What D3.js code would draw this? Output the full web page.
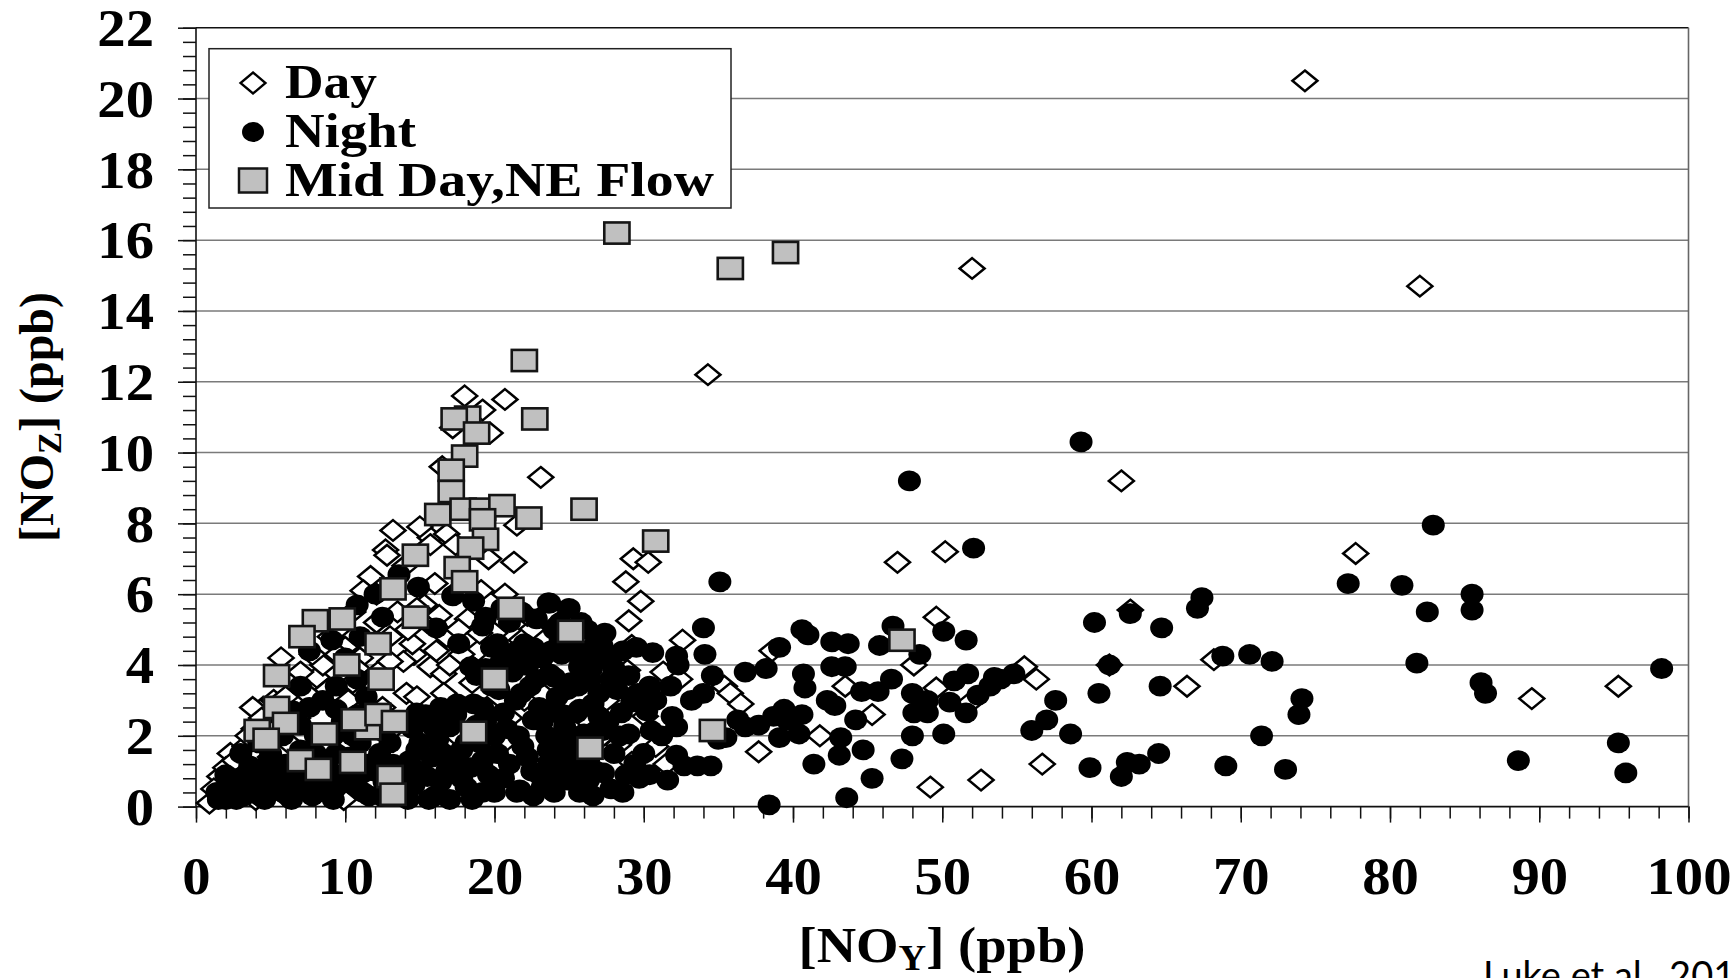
<!DOCTYPE html>
<html><head><meta charset="utf-8">
<script src="https://cdn.jsdelivr.net/npm/d3@7"></script>
<style>
html,body{margin:0;padding:0;background:#fff;overflow:hidden}
text{font-family:"Liberation Serif","Times New Roman",serif;font-weight:bold;fill:#000}
</style></head>
<body><svg id="c" width="1735" height="978"></svg>
<script>
const seriesNames = ["Day", "Night", "Mid Day,NE Flow"];
const xTickValues = [0,10,20,30,40,50,60,70,80,90,100];
const yTickValues = [0,2,4,6,8,10,12,14,16,18,20,22];
const citation = "Luke et al., 2010";

// Day (open diamonds): [NOy, NOz]
const dayPoints = [
 [74.3,20.5],[52.0,15.2],[82.0,14.7],[34.3,12.2],[62.0,9.2],[23.1,9.3],[77.7,7.15],[50.2,7.2],[47.0,6.9],
 [29.3,7.0],[30.3,6.9],[28.8,6.35],[29.8,5.8],[29.0,5.25],[62.6,5.55],[49.6,5.35],[66.4,3.4],[68.2,4.15],
 [61.2,4.0],[55.5,3.95],[56.3,3.6],[89.5,3.05],[95.3,3.4],[56.7,1.2],[52.6,0.75],[49.2,0.55],[45.3,2.6],
 [48.1,4.0],[37.7,1.55],[41.8,2.0],[32.6,4.7],[29.2,4.55],[28.9,3.85],[26.3,4.2],[31.3,3.8],[32.4,3.6],
 [27.1,3.7],[35.4,3.4],[35.8,3.2],[36.5,2.9],[38.6,4.4],[43.5,3.4],[49.6,3.35],[51.9,2.95],[30.1,2.55],
 [28.3,1.75],[29.2,1.25],[30.8,1.7],[31.5,1.2],[24.2,1.95],
 [18.0,11.6],[20.7,11.5],[19.2,11.2],[17.2,10.7],[16.5,9.6],[19.7,10.55],[13.2,7.8],[15.7,7.6],[16.8,7.7],
 [21.5,7.95],[12.7,7.25],[12.8,7.1],[11.7,6.5],[12.1,6.0],[15.7,7.4],[21.3,6.9],[19.1,6.1],[20.7,6.0],
 [18.2,5.3],[22.5,5.0],[22.2,5.4],[18.9,4.4],[15.3,5.7],[16.1,4.4],[14.6,4.3],[13.9,4.1],[15.7,3.95],
 [16.6,3.75],[12.1,5.2],[5.7,4.2],[8.1,3.65],[8.8,3.3],[7.4,3.2],[4.5,2.8],[14.1,3.2],[14.8,3.1],[16.6,3.2],
 [20.6,1.8],[23.7,1.3],[26.4,4.2],[2.3,1.5],[1.6,0.85],[0.9,0.1],[9.0,0.4],[9.9,0.2],[3.8,2.8],
 [3.0,1.2],[3.5,0.6],[4.2,1.0],[5.0,1.4],[5.5,0.8],[6.2,1.8],[4.8,2.2],[6.8,2.5],[7.5,1.2],[2.5,0.4],
 [1.8,0.3],[4.0,0.2],[6.0,0.3],[10.5,3.5],[11.0,4.2],[13.0,4.8],[14.5,4.6],[15.5,5.2],[17.0,4.0],[18.5,3.5],
 [19.5,2.8],[21.0,2.5],[22.0,3.0],[17.5,2.0],[12.5,2.8],[11.5,3.6],[10.0,4.5],[9.0,4.8],[8.5,4.0],[6.5,3.5],
 [23.5,5.5],[25.0,4.5],[24.0,3.5],[26.0,2.5],[27.0,1.9],[27.5,3.0],
 [1.2,0.5],[2.0,1.1],[2.6,1.3],[3.3,1.7],[3.9,2.2],[4.4,2.5],[5.2,3.0],[6.0,3.1],[7.0,3.8],[7.8,4.3],
 [9.5,5.0],[10.5,5.5],[11.2,6.1],[3.5,2.0],
 [9.5,4.3],[10.8,3.9],[11.5,4.6],[12.2,3.8],[13.0,4.1],[13.5,5.5],[14.2,5.0],[14.8,5.6],[16.3,5.4],[16.8,4.8],
 [17.6,5.0],[10.2,3.0],[11.8,2.6],[13.2,2.2],[15.0,2.4],[20.0,4.9],[21.8,4.7],[19.0,4.9],[17.8,4.3],[16.0,6.3],
 [14.0,6.8],[15.0,7.9],[17.4,7.4],[17.8,6.2],[19.6,7.0]
];

// Night (filled circles)
const nightPoints = [
 [59.3,10.3],[47.8,9.2],[52.1,7.3],[35.1,6.35],[82.9,7.95],[77.2,6.3],[80.8,6.25],[85.5,6.0],[85.5,5.55],
 [82.5,5.5],[67.4,5.9],[67.1,5.6],[64.7,5.05],[62.6,5.45],[60.2,5.2],[54.8,3.75],[53.9,3.6],[57.6,3.0],
 [57.0,2.45],[56.0,2.15],[58.6,2.05],[60.5,3.2],[61.2,4.0],[64.6,3.4],[68.8,4.25],[70.6,4.3],[72.1,4.1],
 [74.1,3.05],[73.9,2.6],[71.4,2.0],[81.8,4.05],[86.1,3.5],[86.4,3.2],[98.2,3.9],[95.3,1.8],[95.8,0.95],
 [88.6,1.3],[59.9,1.1],[62.4,1.25],[62.0,0.85],[63.2,1.2],[64.5,1.5],[69.0,1.15],[73.0,1.05],
 [34.0,5.05],[34.1,4.3],[34.6,3.7],[36.8,3.8],[38.2,3.9],[39.1,4.5],[40.6,5.0],[41.0,4.85],[42.6,4.65],
 [43.7,4.6],[40.7,3.75],[40.8,3.35],[42.6,3.95],[43.5,3.95],[42.3,3.0],[42.8,2.85],[44.6,3.25],[45.7,3.25],
 [46.6,3.6],[48.0,3.2],[46.7,5.1],[45.8,4.55],[48.5,4.3],[50.1,4.95],[51.6,4.7],[49.0,3.0],[48.1,2.65],
 [49.0,2.65],[50.5,2.95],[51.6,2.65],[50.8,3.55],[51.7,3.75],[52.4,3.15],[53.2,3.4],[53.5,3.65],[50.1,2.05],
 [48.0,2.0],[47.3,1.35],[45.3,0.8],[44.7,1.6],[44.2,2.45],[43.2,1.95],[43.1,1.45],[43.6,0.25],[41.4,1.2],
 [38.4,0.05],[39.1,1.95],[40.4,2.05],[40.6,2.6],[39.4,2.75],[39.6,2.45],[38.7,2.55],[37.7,2.3],[36.8,2.25],
 [36.3,2.45],[35.5,1.95],[35.0,1.9],[34.5,1.15],[33.6,1.15],[32.7,1.15],[32.2,1.45],[32.2,2.25],[33.2,3.0],
 [34.0,3.2],[31.9,2.55],[31.6,0.75],[29.7,0.8],[32.3,4.0],[32.2,4.25],[30.6,4.35],[29.5,4.5],[30.4,3.4],
 [27.2,4.55],[27.6,4.25],[25.9,3.85],[26.5,3.9],[24.9,3.3],[24.0,3.65],[23.7,5.75],[25.8,5.2],[24.4,4.7],
 [28.2,3.3],[29.2,2.95],[28.5,2.65],[27.0,2.55],[25.5,2.65],[24.7,2.25],[24.0,2.8],[26.0,2.05],[27.3,2.15],
 [29.0,2.05],[30.5,2.15],[25.0,1.5],[26.3,1.3],[27.3,0.95],[24.9,0.75],[26.3,0.75],[25.7,0.4],[23.7,1.2],
 [23.7,0.65],
 [13.6,6.55],[14.9,6.2],[17.2,5.95],[23.6,5.75],[10.8,5.7],[12.5,5.35],[16.1,5.05],[19.4,5.35],[19.2,5.1],
 [26.7,4.55],[17.6,4.6],[9.1,4.7],[7.6,4.4],[21.5,4.4],[22.6,4.5],[25.3,4.6],[18.4,3.95],[20.4,4.05],
 [23.7,3.75],[25.1,3.5],[25.7,3.95],[26.8,4.15],[10.8,3.6],[9.4,3.4],[7.0,3.4],[11.4,3.1],[9.4,2.75],
 [7.6,2.8],[14.8,2.65],[16.4,2.8],[19.2,2.8],[20.6,2.65],[22.6,2.45],[24.2,2.65],[25.7,2.75],[26.4,2.05],
 [21.9,1.7],[24.8,1.3],[21.5,0.4],[23.2,0.55],[19.2,1.3],[18.1,0.55],[17.0,0.2],[15.5,0.85],[15.0,1.8],
 [15.9,2.25],[17.0,2.25],[16.6,1.5],[18.1,1.8],[14.3,1.3],[11.2,0.95],[11.2,0.4],[9.4,0.55],[7.4,0.45],
 [5.8,0.4],[4.3,0.3],[2.7,0.2],[1.4,0.4],[3.4,0.65],[5.4,0.85],[3.6,1.15],[6.7,0.85],[5.0,1.5],[9.4,1.5],
 [12.3,1.5],[13.0,1.8],[6.5,2.7],
 [13.5,0.5],[14.5,2.2],[16.0,0.3],[16.8,1.0],[17.5,2.9],[18.8,2.3],[19.6,0.9],
 [20.0,2.0],[20.3,3.3],[21.0,1.2],[14.0,1.0],[15.8,1.4],[17.8,0.8],[19.0,1.8],
 [12.0,2.5],[10.5,2.0],[11.5,1.2],[8.5,1.0],[8.0,2.0],[6.0,1.2],[7.0,1.6],[4.5,0.9],
 [3.0,0.3],[2.0,0.2],[8.5,3.0],[10.0,4.2],[12.0,6.0],[21.8,3.2],
 [22.8,3.6],[22.5,1.0],[23.5,2.0],[20.0,0.4],[18.5,0.2],[19.8,4.5],[21.0,5.2],[24.5,4.3],
 [22.0,4.0],[23.0,2.8],[24.5,1.8],[25.5,1.0],[27.0,3.2],[28.0,1.5],[28.8,0.9],[27.8,0.5],[21.7,0.47],
 [1.5,0.2],[2.2,0.5],[2.8,0.8],[3.2,0.3],[3.8,0.9],[4.0,0.5],[4.6,0.2],[4.8,1.2],[5.2,0.5],[5.6,1.1],
 [6.2,0.6],[6.4,0.2],[6.8,1.3],[7.2,0.9],[7.8,0.3],[8.0,1.5],[8.4,0.6],[8.8,1.2],[9.2,0.2],[9.8,0.9],
 [10.2,1.4],[10.6,0.6],[11.0,1.8],[11.6,0.3],[12.0,1.0],[12.6,0.7],[3.0,1.5],[4.2,1.8],[5.8,2.0],[7.0,2.3],
 [2.0,0.9],
 [13.2,1.2],[14.6,0.6],[14.8,1.6],[15.4,2.6],[15.6,0.2],[16.2,1.9],[16.4,0.7],[17.2,1.2],[17.4,2.6],
 [17.8,1.6],[18.4,1.1],[18.6,2.9],[19.2,0.4],[19.4,2.4],[20.2,1.5],[20.6,0.8],
 [18.8,3.7],[19.8,3.4],[11.0,4.8],
 [20.8,2.2],[21.4,3.0],[21.6,2.0],[22.2,1.4],[22.4,3.4],[23.0,0.9],[23.2,2.4],[23.6,1.6],[24.0,0.4],[24.2,3.1],
 [24.6,2.6],[25.2,2.0],[25.6,3.4],[26.0,1.6],[26.6,2.9],[26.8,1.0],[27.6,2.4],[28.0,3.9],[28.4,2.0],[22.0,4.6],
 [23.2,4.2],[24.4,5.2],[21.2,3.8],[20.2,4.6],
 [20.5,5.6],[21.8,5.5],[22.8,5.3],[24.0,5.0],[25.0,5.6],[26.2,5.0],[27.4,4.9],[20.8,4.2],[22.4,4.1],[23.8,4.4],
 [25.6,4.3],[26.4,3.6],[27.8,3.6],[28.6,4.4],[29.0,3.7],[29.6,3.2],[30.2,2.7],[30.8,3.0],[31.2,2.0],[31.8,3.4],
 [30.0,1.5],[29.4,1.2],[28.6,0.4],[30.4,0.9],[22.6,0.3],[24.6,0.9],[26.6,0.3],[19.4,3.9],
 [18.6,5.8],[12.6,2.1],[10.8,2.6],[9.8,2.4],[9.2,2.0],[12.4,0.3],[14.2,0.2],[15.0,1.0],[16.0,2.6]
];

// Mid Day, NE flow (grey squares)
const midDayPoints = [
 [28.2,16.2],[35.8,15.2],[39.5,15.65],[22.0,12.6],[22.7,10.95],[18.2,11.0],[17.3,10.95],[18.8,10.55],
 [18.0,9.9],[17.1,9.5],[17.1,8.9],[16.2,8.25],[17.9,8.4],[19.2,8.4],[20.5,8.5],[22.3,8.15],[26.0,8.4],
 [19.2,8.1],[19.4,7.55],[18.4,7.3],[17.5,6.75],[18.0,6.35],[30.8,7.5],[14.7,7.1],[13.2,6.15],[14.7,5.35],
 [21.1,5.6],[25.1,4.95],[8.0,5.25],[9.8,5.3],[7.1,4.8],[12.2,4.6],[10.1,4.0],[5.4,3.7],[12.4,3.6],[20.0,3.6],
 [47.3,4.7],[5.4,2.8],[4.1,2.15],[6.0,2.35],[4.7,1.9],[8.6,2.05],[11.5,2.2],[10.6,2.45],[12.2,2.6],[13.3,2.4],
 [18.6,2.1],[34.6,2.15],[26.4,1.65],[7.0,1.3],[8.2,1.05],[10.5,1.25],[13.0,0.85],[13.2,0.35]
];

const svg = d3.select("#c");
const x = d3.scaleLinear().domain([0, 100]).range([196, 1688.5]);
const y = d3.scaleLinear().domain([0, 22]).range([806.6, 27.7]);
const FS = 52;

function stretch(sel, f) {
  sel.each(function () {
    const L = this.getComputedTextLength();
    this.setAttribute("textLength", L * f);
    this.setAttribute("lengthAdjust", "spacingAndGlyphs");
  });
}

// grid lines
svg.append("g").selectAll("line")
  .data(yTickValues.filter(v => v > 0 && v < 22)).join("line")
  .attr("x1", x(0)).attr("x2", x(100))
  .attr("y1", d => y(d)).attr("y2", d => y(d))
  .attr("stroke", "#7a7a7a").attr("stroke-width", 1.5);

// frame
svg.append("line").attr("x1", x(0)).attr("x2", x(100)).attr("y1", y(22)).attr("y2", y(22))
  .attr("stroke", "#111").attr("stroke-width", 1.6);
svg.append("line").attr("x1", x(100)).attr("x2", x(100)).attr("y1", y(22)).attr("y2", y(0))
  .attr("stroke", "#666").attr("stroke-width", 1.6);

// y axis minor ticks
const yMinor = d3.range(0, 22.0001, 0.4);
svg.append("g").attr("transform", `translate(${x(0)},0)`)
  .call(d3.axisLeft(y).tickValues(yMinor).tickSize(13).tickSizeOuter(0).tickFormat(""))
  .call(g => g.select(".domain").remove())
  .selectAll("line").attr("stroke", "#111").attr("stroke-width", 1.5);
// y axis major ticks + labels
const yAx = svg.append("g").attr("transform", `translate(${x(0)},0)`)
  .call(d3.axisLeft(y).tickValues(yTickValues).tickSize(18).tickSizeOuter(0).tickPadding(24).tickFormat(d => String(d)));
yAx.select(".domain").remove();
yAx.selectAll("line").attr("stroke", "#111").attr("stroke-width", 1.5);
yAx.selectAll("text").attr("font-size", FS).attr("font-family", null).attr("dy", "0.34em");

// x axis minor
const xMinor = d3.range(0, 100.001, 2);
svg.append("g").attr("transform", `translate(0,${y(0)})`)
  .call(d3.axisBottom(x).tickValues(xMinor).tickSize(12).tickSizeOuter(0).tickFormat(""))
  .call(g => g.select(".domain").remove())
  .selectAll("line").attr("stroke", "#111").attr("stroke-width", 1.5);
const xAx = svg.append("g").attr("transform", `translate(0,${y(0)})`)
  .call(d3.axisBottom(x).tickValues(xTickValues).tickSize(16).tickSizeOuter(0).tickPadding(34).tickFormat(d => String(d)));
xAx.select(".domain").remove();
xAx.selectAll("line").attr("stroke", "#111").attr("stroke-width", 1.5);
xAx.selectAll("text").attr("font-size", FS).attr("font-family", null);

// axis lines
svg.append("line").attr("x1", x(0)).attr("x2", x(0)).attr("y1", y(22)).attr("y2", y(0))
  .attr("stroke", "#111").attr("stroke-width", 1.6);
svg.append("line").attr("x1", x(0)).attr("x2", x(100)).attr("y1", y(0)).attr("y2", y(0))
  .attr("stroke", "#111").attr("stroke-width", 1.6);

// markers
const diamond = "M0,-10.3L12.5,0L0,10.3L-12.5,0Z";
svg.append("g").selectAll("path").data(dayPoints).join("path")
  .attr("d", diamond).attr("transform", d => `translate(${x(d[0])},${y(d[1])})`)
  .attr("fill", "#fff").attr("stroke", "#000").attr("stroke-width", 2.5);
svg.append("g").selectAll("ellipse").data(nightPoints).join("ellipse")
  .attr("cx", d => x(d[0])).attr("cy", d => y(d[1])).attr("rx", 11.5).attr("ry", 10.4)
  .attr("fill", "#000");
svg.append("g").selectAll("rect").data(midDayPoints).join("rect")
  .attr("x", d => x(d[0]) - 12.6).attr("y", d => y(d[1]) - 10.6).attr("width", 25.2).attr("height", 21.2)
  .attr("fill", "#c0c0c0").attr("stroke", "#151515").attr("stroke-width", 2.6);

// legend
const lg = svg.append("g");
lg.append("rect").attr("x", 209).attr("y", 48.7).attr("width", 522).attr("height", 159.3)
  .attr("fill", "#fff").attr("stroke", "#222").attr("stroke-width", 1.5);
const lgY = [83, 132, 180.5];
const lgBase = [97.5, 146.5, 195.5];
const lgLen = [92, 131, 429];
lg.append("path").attr("d", "M0,-10.5L12.5,0L0,10.5L-12.5,0Z").attr("transform", `translate(253,${lgY[0]})`)
  .attr("fill", "#fff").attr("stroke", "#000").attr("stroke-width", 2.3);
lg.append("ellipse").attr("cx", 253).attr("cy", lgY[1]).attr("rx", 11).attr("ry", 10).attr("fill", "#000");
lg.append("rect").attr("x", 253 - 14).attr("y", lgY[2] - 12).attr("width", 28).attr("height", 24)
  .attr("fill", "#c0c0c0").attr("stroke", "#151515").attr("stroke-width", 2.5);
seriesNames.forEach((n, i) => {
  lg.append("text").attr("x", 285).attr("y", lgBase[i]).attr("font-size", 48)
    .attr("textLength", lgLen[i]).attr("lengthAdjust", "spacingAndGlyphs").text(n);
});

// axis titles
const xt = svg.append("text").attr("x", 942).attr("y", 962).attr("text-anchor", "middle").attr("font-size", 50);
xt.append("tspan").text("[NO");
xt.append("tspan").attr("font-size", 35).attr("dy", 8).text("Y");
xt.append("tspan").attr("dy", -8).text("] (ppb)");
xt.attr("textLength", 287).attr("lengthAdjust", "spacingAndGlyphs");

const yt = svg.append("text").attr("transform", "translate(53,417) rotate(-90)")
  .attr("text-anchor", "middle").attr("font-size", 48);
yt.append("tspan").text("[NO");
yt.append("tspan").attr("font-size", 33).attr("dy", 8).text("Z");
yt.append("tspan").attr("dy", -8).text("] (ppb)");

// tick label horizontal stretch
stretch(yAx.selectAll("text"), 1.09);
stretch(xAx.selectAll("text"), 1.09);

// citation
svg.append("text").attr("x", 1483).attr("y", 989)
  .style("font-family", "Lato, 'Open Sans', sans-serif").style("font-weight", "normal")
  .attr("font-size", 38).text(citation);
</script></body></html>
